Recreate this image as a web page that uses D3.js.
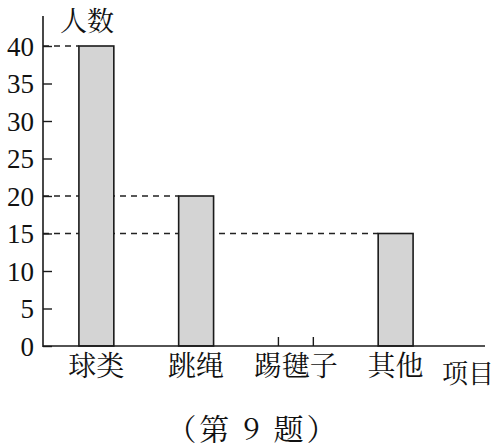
<!DOCTYPE html>
<html>
<head>
    <meta charset="utf-8">
    <title>第9题</title>
    <style>
        body { margin: 0; background: #fff; }
    </style>
    <script src="https://d3js.org/d3.v7.min.js"></script>
</head>
<body>
<script type="text/javascript">

    // data
    var categories = ['球类', '跳绳', '踢毽子', '其他'];
    var counts = [40, 20, 0, 15];
    var yTicks = [0, 5, 10, 15, 20, 25, 30, 35, 40];
    var guideValues = [40, 20, 15];   // dashed lines to the bar tops

    var W = 497, H = 448;
    var x0 = 43, y0 = 346;
    var serif = '"Liberation Serif", "DejaVu Serif", serif';
    var cjk = '"Noto Serif CJK SC", "Noto Sans CJK SC", sans-serif';

    var svg = d3.select('body')
                .append('svg')
                .attr('width', W)
                .attr('height', H);

    var x = d3.scaleBand()
            .domain(categories)
            .range([x0, 449])
            .paddingInner(0.65)
            .paddingOuter(0.36);

    var y = d3.scaleLinear()
            .domain([0, 40])
            .range([y0, 46]);

    // dashed guides first, bars cover them
    svg.append('g').selectAll('line')
        .data(guideValues)
        .enter()
        .append('line')
        .attr('x1', x0)
        .attr('x2', function(v) {
            var i = counts.lastIndexOf(v);
            return x(categories[i]);
        })
        .attr('y1', function(v) { return y(v); })
        .attr('y2', function(v) { return y(v); })
        .attr('stroke', '#222')
        .attr('stroke-width', 1.3)
        .attr('stroke-dasharray', '6,5');

    // bars
    var data = categories.map(function(c, i) { return {name: c, value: counts[i]}; });

    svg.append('g').selectAll('rect')
        .data(data.filter(function(d) { return d.value > 0; }))
        .enter()
        .append('rect')
        .attr('x', function(d) { return x(d.name); })
        .attr('y', function(d) { return y(d.value); })
        .attr('width', x.bandwidth())
        .attr('height', function(d) { return y0 - y(d.value); })
        .attr('fill', '#d4d4d4')
        .attr('stroke', '#1a1a1a')
        .attr('stroke-width', 1.6);

    // zero bar: only its two edge marks
    var zero = data.filter(function(d) { return d.value === 0; });
    zero.forEach(function(d) {
        [x(d.name), x(d.name) + x.bandwidth()].forEach(function(px) {
            svg.append('line')
                .attr('x1', px).attr('x2', px)
                .attr('y1', y0).attr('y2', y0 - 9)
                .attr('stroke', '#1a1a1a')
                .attr('stroke-width', 1.4);
        });
    });

    // y axis, ticks pointing inward
    var yAxis = d3.axisLeft(y)
            .tickValues(yTicks)
            .tickSizeInner(-9)
            .tickSizeOuter(0)
            .tickPadding(9);

    var gy = svg.append('g')
            .attr('transform', 'translate(' + x0 + ',0)')
            .call(yAxis)
            .attr('font-family', null)
            .attr('font-size', null);
    gy.select('.domain').remove();
    gy.selectAll('.tick line').attr('stroke', '#1a1a1a').attr('stroke-width', 1.4);
    gy.selectAll('.tick text')
        .style('font-family', serif)
        .style('font-size', '27px')
        .attr('fill', '#111')
        .attr('dy', '0.34em');

    svg.append('line')
        .attr('x1', x0).attr('x2', x0)
        .attr('y1', 16).attr('y2', y0 + 1)
        .attr('stroke', '#1a1a1a')
        .attr('stroke-width', 1.6);

    // x axis
    svg.append('line')
        .attr('x1', x0).attr('x2', 485)
        .attr('y1', y0).attr('y2', y0)
        .attr('stroke', '#1a1a1a')
        .attr('stroke-width', 1.6);

    svg.append('g').selectAll('text')
        .data(categories)
        .enter()
        .append('text')
        .style('font-family', cjk)
        .attr('x', function(d) { return x(d) + x.bandwidth() / 2; })
        .attr('y', 376)
        .attr('text-anchor', 'middle')
        .attr('font-size', 28)
        .attr('fill', '#111')
        .text(function(d) { return d; });

    svg.append('text')
        .style('font-family', cjk)
        .attr('x', 468).attr('y', 383)
        .attr('text-anchor', 'middle')
        .attr('font-size', 26)
        .attr('fill', '#111')
        .text('项目');

    svg.append('text')
        .style('font-family', cjk)
        .attr('x', 87).attr('y', 31)
        .attr('text-anchor', 'middle')
        .attr('font-size', 27)
        .attr('fill', '#111')
        .text('人数');

    // caption
    svg.append('text')
        .style('font-family', cjk)
        .attr('x', 253).attr('y', 440)
        .attr('text-anchor', 'middle')
        .attr('font-size', 30)
        .attr('letter-spacing', 3)
        .attr('fill', '#111')
        .text('（第 9 题）');

</script>
</body>
</html>
